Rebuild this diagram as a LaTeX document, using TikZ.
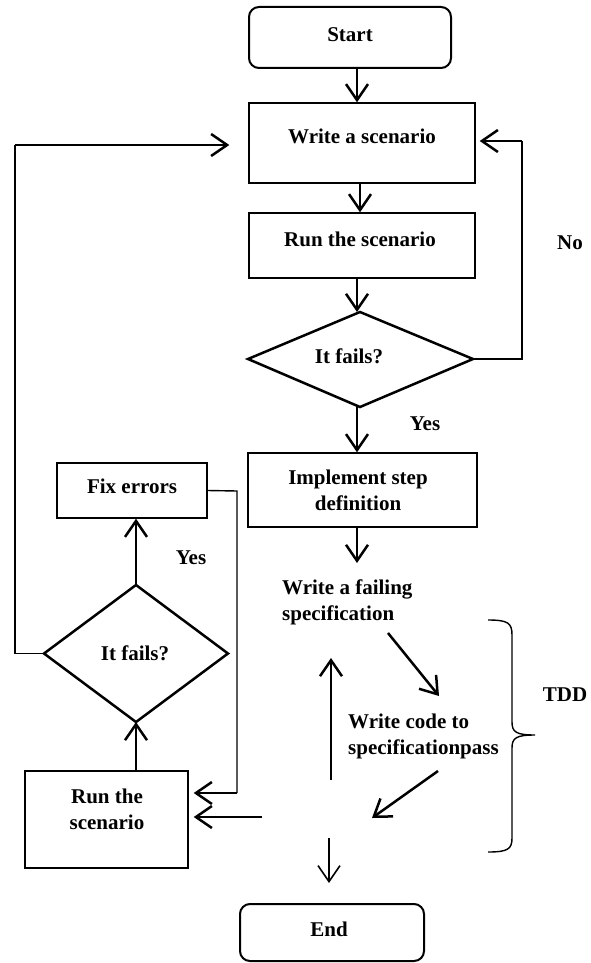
\documentclass[tikz,border=0pt]{standalone}
\usepackage{fontspec}
\setmainfont{Liberation Serif}
\usetikzlibrary{arrows.meta}
\begin{document}
\begin{tikzpicture}[x=1pt,y=-1pt,
  txt/.style={font=\fontsize{21}{26}\selectfont\bfseries, inner sep=0pt, align=center},
  box/.style={draw, line width=1.4pt, inner sep=0pt},
  rbox/.style={draw, line width=2pt, rounded corners=10pt, inner sep=0pt},
  arr/.style={line width=2.5pt, -{Straight Barb[length=16pt,width=22pt,line width=2.5pt]}},
  tarr/.style={line width=1.6pt, -{Straight Barb[length=16pt,width=22pt,line width=1.6pt]}},
  thin/.style={line width=1.4pt},
  dia/.style={draw, line width=2.5pt, line join=miter}]
\useasboundingbox (0,0) rectangle (591,963);

% top column
\node[rbox, minimum width=202pt, minimum height=61pt] (start) at (350,37.5) {};
\node[txt] (starttxt) at (350,35) {Start};
\node[box, minimum width=226pt, minimum height=80pt] (write) at (362,143) {};
\node[txt] (writetxt) at (362,136) {Write a scenario};
\node[box, minimum width=226pt, minimum height=65pt] (run) at (362,245.5) {};
\node[txt] (runtxt) at (360,239) {Run the scenario};
\coordinate (d1n) at (360,312);
\coordinate (d1e) at (473,359);
\coordinate (d1s) at (360,407);
\coordinate (d1w) at (248,359);
\draw[dia] (d1n) -- (d1e) -- (d1s) -- (d1w) -- cycle;
\node[txt] (d1txt) at (349,356) {It fails?};
\node[box, minimum width=229pt, minimum height=74pt] (impl) at (362.5,490) {};
\node[txt] (impltxt) at (358,490.5) {Implement step\\definition};

% TDD part
\node[txt, align=left, anchor=west] (wf) at (282,602.5) {Write a failing\\specification};
\node[txt, align=left, anchor=west] (wc) at (348,736.5) {Write code to\\specificationpass};
\node[txt] (tdd) at (565,695) {TDD};
\draw[thin] (488,620) .. controls (508,620) and (512,623) .. (512,635) -- (512,722)
  .. controls (512,732) and (516,735) .. (535,735)
  .. controls (516,735) and (512,738) .. (512,748) -- (512,838)
  .. controls (512,849) and (508,852) .. (488,852);

% left part
\node[box, minimum width=150pt, minimum height=55pt] (fix) at (132,490.5) {};
\node[txt] (fixtxt) at (132,486) {Fix errors};
\coordinate (d2n) at (136,585);
\coordinate (d2e) at (228,653.5);
\coordinate (d2s) at (136,722);
\coordinate (d2w) at (44,653.5);
\draw[dia] (d2n) -- (d2e) -- (d2s) -- (d2w) -- cycle;
\node[txt] (d2txt) at (135,653) {It fails?};
\node[box, minimum width=163pt, minimum height=97pt] (run2) at (106.5,819.5) {};
\node[txt] (run2txt) at (107,809) {Run the\\scenario};

\node[rbox, minimum width=184pt, minimum height=57pt] (end) at (332,932.5) {};
\node[txt] (endtxt) at (329,929) {End};

% labels
\node[txt] (no) at (570,243) {No};
\node[txt] (yes1) at (425,424) {Yes};
\node[txt] (yes2) at (191,558) {Yes};

% connectors
\draw[arr] ([xshift=7pt]start.south) -- ([xshift=7pt]start.south |- write.north);
\draw[arr] ([xshift=-2pt]write.south) -- ([xshift=-2pt]write.south |- run.north);
\draw[arr] ([xshift=-5pt]run.south) -- ([xshift=-3pt]d1n);
\draw[arr] ([xshift=-3pt]d1s) -- ([xshift=-3pt]d1s |- impl.north);
\draw[thin] (d1e) -- (522,359) coordinate (nocorner) -- (522,141) coordinate (notop);
\draw[arr] (notop) -- ([xshift=4pt]write.east |- notop);
\draw[arr] ([xshift=-5.5pt]impl.south) -- ([xshift=-5.5pt]impl.south |- 0,563);
\draw[arr] (388,633) -- (439,696);
\draw[arr] (438,771) -- (372,818);
\draw[arr] (331,780) -- (331,658);
\draw[arr] (262,817) -- ([xshift=5pt]run2.east |- 0,817);
\draw[tarr] (329,838) -- (329,883);

\draw[arr] (d2n) -- (fix.south -| d2n);
\draw[arr] (run2.north -| d2s) -- (d2s);
\draw[thin] (fix.east) -- (237,491) -- (237,793) coordinate (fixdown);
\draw[arr] (fixdown) -- ([xshift=5pt]run2.east |- fixdown);
\draw[thin] (d2w) -- (15,653.5) -- (15,145) coordinate (lefttop);
\draw[arr] (lefttop) -- ([xshift=-19pt]write.west |- lefttop);
\end{tikzpicture}
\end{document}
